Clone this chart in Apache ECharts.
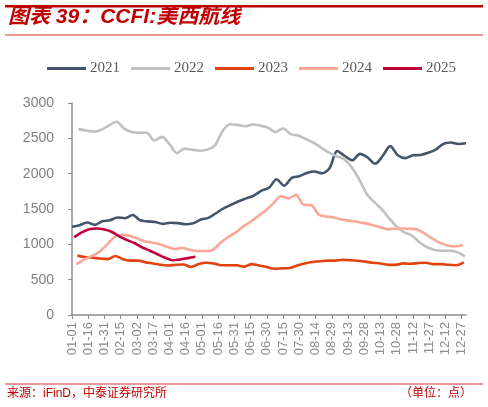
<!DOCTYPE html>
<html>
<head>
<meta charset="utf-8">
<script src="https://cdn.jsdelivr.net/npm/echarts@6/dist/echarts.min.js"></script>
<style>
    html, body {margin: 0; padding: 0; background: #fff;}
    #app {width: 488px; height: 407px;}
</style>
</head>
<body>
<div id="app"></div>
<script>
// 年份与颜色
var years = ['2021', '2022', '2023', '2024', '2025']
var colors = ['#44546a', '#c0c0c0', '#e2420d', '#f9a898', '#c0003a']

// 每年第一个周五（日序号，从 01-01 起算）
var firstDay = [0, 6, 5, 4, 2]

// CCFI 美西航线 周度数据
var v2021 = [1250, 1270, 1310, 1275, 1325, 1340, 1380, 1370, 1415, 1340, 1325, 1315, 1290, 1305, 1300, 1285, 1300, 1350, 1375, 1440,
    1510, 1560, 1610, 1650, 1690, 1760, 1800, 1920, 1830, 1940, 1965, 2010, 2030, 2005, 2080, 2320, 2250, 2190, 2280, 2230,
    2140, 2250, 2390, 2260, 2220, 2260, 2265, 2295, 2340, 2420, 2440, 2420, 2430]
var v2022 = [2630, 2610, 2595, 2620, 2680, 2735, 2640, 2590, 2580, 2580, 2470, 2520, 2420, 2290, 2355, 2340, 2325, 2340, 2400, 2600,
    2700, 2690, 2670, 2695, 2680, 2650, 2590, 2640, 2560, 2540, 2490, 2440, 2370, 2300, 2250, 2210, 2100, 1930, 1720, 1600,
    1500, 1370, 1250, 1170, 1125, 1030, 960, 920, 910, 910, 890, 830]
var v2023 = [840, 820, 810, 800, 790, 835, 790, 770, 770, 745, 730, 710, 700, 710, 715, 680, 720, 740, 730, 705,
    705, 705, 685, 720, 700, 680, 655, 660, 665, 700, 730, 750, 760, 770, 770, 780, 775, 768, 755, 740,
    730, 710, 710, 730, 725, 735, 740, 720, 720, 710, 705, 745]
var v2024 = [720, 780, 835, 890, 990, 1100, 1135, 1120, 1085, 1045, 1025, 1000, 965, 935, 950, 920, 905, 905, 920, 1020,
    1100, 1165, 1250, 1320, 1400, 1480, 1580, 1680, 1650, 1700, 1560, 1555, 1420, 1395, 1380, 1350, 1335, 1320, 1300, 1275,
    1245, 1215, 1220, 1225, 1220, 1210, 1150, 1080, 1020, 985, 970, 990]
var v2025 = [1100, 1170, 1215, 1225, 1210, 1175, 1110, 1060, 1015, 955, 910, 860, 810, 775, 785, 805, 825]
var values = [v2021, v2022, v2023, v2024, v2025]

// x 轴：全年日期 MM-DD
var days = []
var d = new Date(2021, 0, 1)
while (d.getFullYear() === 2021) {
    days.push(`${String(d.getMonth() + 1).padStart(2, '0')}-${String(d.getDate()).padStart(2, '0')}`)
    d.setDate(d.getDate() + 1)
}

var chart = echarts.init(document.getElementById('app'))

var series = years.map((y, k) => ({
    name: y,
    type: 'line',
    smooth: 0.3,
    showSymbol: false,
    lineStyle: {width: 2.6, color: colors[k]},
    itemStyle: {color: colors[k]},
    data: values[k].map((v, i) => [days[firstDay[k] + 7 * i], v])
}))

chart.setOption({
    backgroundColor: '#fff',
    animation: false,
    legend: {
        left: 42,
        top: 56,
        icon: 'rect',
        itemWidth: 39,
        itemHeight: 3,
        itemGap: 11,
        textStyle: {fontFamily: 'Liberation Serif', fontSize: 15, color: '#595959', padding: [0, 0, 0, -1]},
        data: years
    },
    grid: {left: 72, right: 22, top: 103, bottom: 92},
    xAxis: {
        type: 'category',
        boundaryGap: false,
        data: days,
        axisLine: {lineStyle: {color: '#8c8c8c', width: 1.5}},
        axisTick: {interval: 14, length: 4, lineStyle: {color: '#8c8c8c'}},
        axisLabel: {interval: 14, rotate: 90, margin: 7, fontFamily: 'Liberation Sans', fontSize: 13, color: '#8c8c8c'}
    },
    yAxis: {
        type: 'value',
        min: 0,
        max: 3000,
        interval: 500,
        splitLine: {show: false},
        axisLine: {show: true, lineStyle: {color: '#8c8c8c', width: 1.5}},
        axisTick: {show: true, length: 4, lineStyle: {color: '#8c8c8c'}},
        axisLabel: {margin: 18, fontFamily: 'Liberation Sans', fontSize: 14, color: '#7f7f7f', formatter: (v) => String(v)}
    },
    graphic: [
        {type: 'rect', shape: {x: 5, y: 5, width: 478, height: 2.5}, style: {fill: '#c00000'}},
        {type: 'text', left: 8, top: 7, style: {text: '图表 39：CCFI:美西航线', fill: '#c00000',
            font: 'italic bold 21px "Liberation Sans", "Noto Sans CJK SC"'}},
        {type: 'rect', shape: {x: 5, y: 34.5, width: 478, height: 1}, style: {fill: '#d83030'}},
        {type: 'rect', shape: {x: 5, y: 383.5, width: 478, height: 1}, style: {fill: '#d83030'}},
        {type: 'text', left: 7, top: 388, style: {text: '来源：iFinD，中泰证券研究所', fill: '#c00000',
            font: '12px "Liberation Sans", "Noto Sans CJK SC"'}},
        {type: 'text', right: 16, top: 388, style: {text: '（单位：点）', fill: '#c00000',
            font: '12px "Liberation Sans", "Noto Sans CJK SC"'}}
    ],
    series: series
})
</script>
</body>
</html>
